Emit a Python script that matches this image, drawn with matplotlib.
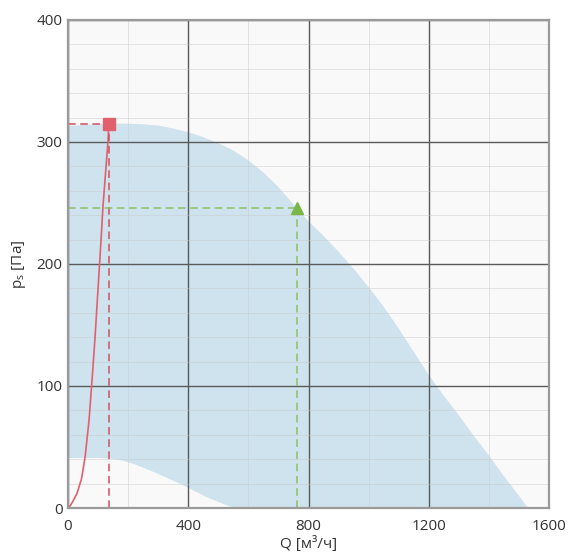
import numpy as np
import matplotlib
matplotlib.use('Agg')
import matplotlib.pyplot as plt
from matplotlib.ticker import MultipleLocator

## Data
# fan working area, upper boundary (Q [m3/h], ps [Pa])
upper_q = [0, 50, 100, 150, 200, 250, 300, 350, 400, 450, 500, 550, 600, 650, 700, 760,
           800, 850, 900, 950, 1000, 1050, 1100, 1150, 1200, 1250, 1300, 1350, 1400, 1450, 1500, 1530]
upper_p = [313, 314, 314.5, 315, 315, 314.5, 313.5, 311, 308, 304, 299, 293, 285, 275, 263, 246,
           235, 223, 210, 196, 181, 165, 147, 128, 109, 92, 76, 59, 43, 26, 10, 0]
# lower boundary (white region at the bottom left)
lower_q = [0, 50, 100, 140, 180, 220, 300, 380, 460, 520, 555]
lower_p = [41, 41, 41, 40.5, 39, 36, 28, 19, 9, 3, 0]
# system curve
sys_q = [0, 8, 15, 30, 45, 57, 70, 80, 90, 100, 110, 116, 125, 133, 136]
sys_p = [0, 2, 5, 12, 24, 42, 72, 105, 140, 180, 220, 246, 275, 300, 315]
# operating points
max_point = (136, 315)
work_point = (762, 246)

xticks = [0, 400, 800, 1200, 1600]
yticks = [0, 100, 200, 300, 400]

plt.rcParams['font.family'] = ['Open Sans', 'DejaVu Sans']

f = plt.figure(figsize=(5.69, 5.58), dpi=100)
ax = f.add_axes([0.1195, 0.0896, 0.8455, 0.8746])
ax.set_facecolor('#f9f9f9')

# working area polygon: upper curve, back along x axis, lower curve back
poly_q = list(upper_q) + list(lower_q[::-1])
poly_p = list(upper_p) + list(lower_p[::-1])
ax.fill(poly_q, poly_p, color='#cfe3ee', lw=0, zorder=1)

# grid
ax.xaxis.set_major_locator(MultipleLocator(400))
ax.xaxis.set_minor_locator(MultipleLocator(200))
ax.yaxis.set_major_locator(MultipleLocator(100))
ax.yaxis.set_minor_locator(MultipleLocator(20))
ax.grid(which='minor', color='#c8c8c8', lw=0.7, alpha=0.45, zorder=2)
ax.grid(which='major', color='#5a5a5a', lw=1.0, zorder=2)
ax.set_axisbelow(False)

# system curve and points
ax.plot(sys_q, sys_p, color='#e0606e', lw=1.2, zorder=4)
ax.plot([0, max_point[0]], [max_point[1]] * 2, ls=(0, (5, 3)), color='#d05060', lw=1.1, zorder=4)
ax.plot([max_point[0]] * 2, [0, max_point[1]], ls=(0, (5, 3)), color='#d05060', lw=1.1, zorder=4)
ax.plot(*max_point, marker='s', ms=9, color='#e0606e', zorder=5)

ax.plot([0, work_point[0]], [work_point[1]] * 2, ls=(0, (5, 3)), color='#8cc063', lw=1.1, zorder=4)
ax.plot([work_point[0]] * 2, [0, work_point[1]], ls=(0, (5, 3)), color='#8cc063', lw=1.1, zorder=4)
ax.plot(*work_point, marker='^', ms=9, color='#7ab648', zorder=5)

ax.set_xlim(0, 1600)
ax.set_ylim(0, 400)
ax.set_xticks(xticks)
ax.set_yticks(yticks)
ax.tick_params(which='both', length=0, labelsize=11, colors='#333333')
ax.tick_params(axis='x', pad=8)
ax.tick_params(axis='y', pad=4)
for s in ax.spines.values():
    s.set_color('#9a9a9a')
    s.set_linewidth(1.6)
    s.set_zorder(6)

ax.set_xlabel('Q [м³/ч]', fontsize=11, color='#333333', labelpad=1)
ax.set_ylabel('p$_\\mathregular{s}$ [Па]', fontsize=11, color='#333333', labelpad=6)

f.savefig('out.png', dpi=100)
